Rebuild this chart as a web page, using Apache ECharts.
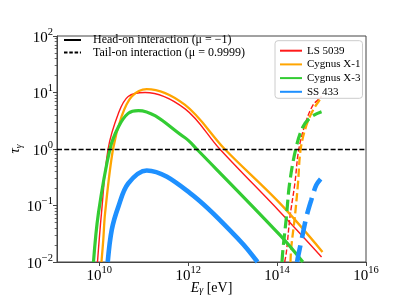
<!DOCTYPE html>
<html>
<head>
<meta charset="utf-8">
<script src="https://cdn.jsdelivr.net/npm/echarts@6/dist/echarts.min.js"></script>
<style>html,body{margin:0;padding:0;background:#fff}#c{width:407px;height:305px}</style>
</head>
<body>
<div id="c"></div>
<script>
// ---- data (E in eV, tau dimensionless) ----
const energyLS5039 = [9.12e9, 1.12e10, 1.58e10, 2.69e10, 4.47e10, 1.07e11, 8.51e11, 5.13e12, 1.15e14, 1.0e15];
const tauLS5039    = [0.01, 0.0724, 1, 4.27, 8.51, 10, 5.13, 1, 0.0776, 0.0123];
const energyCygX1  = [1.12e10, 1.23e10, 1.35e10, 2.04e10, 3.16e10, 5.37e10, 1.17e11, 8.51e11, 6.61e12, 1.15e14, 1.05e15];
const tauCygX1     = [0.01, 0.0245, 0.0724, 1, 3.72, 8.51, 11.5, 6.03, 1, 0.110, 0.0151];
const energyCygX3  = [7.41e9, 9.55e9, 1.74e10, 2.69e10, 4.47e10, 7.59e10, 8.51e11, 1.55e12, 1.15e14, 3.80e14];
const tauCygX3     = [0.01, 0.0724, 1, 2.45, 4.27, 4.79, 1.58, 1, 0.0302, 0.01];
const energySS433  = [1.55e10, 1.91e10, 2.69e10, 4.47e10, 1.17e11, 1.10e12, 1.45e13, 3.63e13];
const tauSS433     = [0.01, 0.0372, 0.0955, 0.245, 0.417, 0.166, 0.0240, 0.01];

const energyLS5039Tail = [1.48e14, 1.62e14, 1.95e14, 2.51e14, 3.09e14, 4.57e14, 6.46e14, 8.32e14, 1.0e15];
const tauLS5039Tail    = [0.01, 0.0151, 0.0631, 0.245, 1, 3.24, 6.03, 7.41, 8.51];
const energyCygX1Tail  = [2.0e14, 2.09e14, 2.51e14, 2.95e14, 3.39e14, 4.57e14, 6.46e14, 9.12e14, 1.0e15];
const tauCygX1Tail     = [0.01, 0.0186, 0.0631, 0.245, 1, 2.63, 4.90, 7.41, 7.94];
const energyCygX3Tail  = [1.29e14, 1.35e14, 1.62e14, 1.91e14, 2.63e14, 3.80e14, 5.89e14, 1.0e15];
const tauCygX3Tail     = [0.01, 0.0162, 0.0631, 0.245, 1, 2.45, 3.72, 4.57];
const energySS433Tail  = [2.82e14, 2.95e14, 3.55e14, 4.57e14, 5.89e14, 7.59e14, 9.55e14];
const tauSS433Tail     = [0.01, 0.0123, 0.0245, 0.0631, 0.126, 0.229, 0.295];

const thresholdTau = 1;
const sourceNames = ['LS 5039', 'Cygnus X-1', 'Cygnus X-3', 'SS 433'];
const modeNames = ['Head-on interaction (μ = −1)', 'Tail-on interaction (μ = 0.9999)'];
const xTickValues = [1e10, 1e12, 1e14, 1e16];
const yTickValues = [0.01, 0.1, 1, 10, 100];
const yMinorTickValues = [0.02,0.03,0.04,0.05,0.06,0.07,0.08,0.09,0.2,0.3,0.4,0.5,0.6,0.7,0.8,0.9,2,3,4,5,6,7,8,9,20,30,40,50,60,70,80,90];

// ---- styles ----
const colors = ['#ff1a1a', '#ffa500', '#33cc33', '#1e90ff'];
const widths = [1.4, 2.3, 3.2, 4.6];
const FONT = 'Liberation Serif';

const zip = (xs, ys) => xs.map((x, i) => [x, ys[i]]);
const headSets = [[energyLS5039, tauLS5039], [energyCygX1, tauCygX1], [energyCygX3, tauCygX3], [energySS433, tauSS433]];
const tailSets = [[energyLS5039Tail, tauLS5039Tail], [energyCygX1Tail, tauCygX1Tail], [energyCygX3Tail, tauCygX3Tail], [energySS433Tail, tauSS433Tail]];

function sup(v) {
  const e = Math.round(Math.log10(v));
  return '{b|10}{s|' + (e < 0 ? '−' + (-e) : e) + '}';
}
const tickRich = {
  b: { fontFamily: FONT, fontSize: 15, verticalAlign: 'bottom', lineHeight: 19, color: '#000' },
  s: { fontFamily: FONT, fontSize: 10.5, verticalAlign: 'top', lineHeight: 19, color: '#000' }
};

const series = [];
headSets.forEach((d, i) => {
  series.push({
    name: sourceNames[i], type: 'line', data: zip(d[0], d[1]),
    symbol: 'none', smooth: 0.35, color: colors[i],
    lineStyle: { color: colors[i], width: widths[i] }, z: 2 + i
  });
});
tailSets.forEach((d, i) => {
  const w = widths[i];
  series.push({
    name: sourceNames[i] + ' tail', type: 'line', data: zip(d[0], d[1]),
    symbol: 'none', smooth: 0.35, color: colors[i],
    lineStyle: { color: colors[i], width: w, type: [3.7 * w, 1.6 * w] }, z: 2 + i
  });
});
// legend-only series for interaction modes
series.push({ name: modeNames[0], type: 'line', data: [], symbol: 'none', color: '#000',
  lineStyle: { color: '#000', width: 1.3 } });
series.push({ name: modeNames[1], type: 'line', data: [], symbol: 'none', color: '#000',
  lineStyle: { color: '#000', width: 1.3, type: [3.5, 1.8] },
  markLine: { silent: true, symbol: 'none', animation: false, z: 10,
    label: { show: false },
    lineStyle: { color: '#000', width: 1.3, type: [5, 2.2] },
    data: [{ yAxis: thresholdTau }] } });

const hiddenSymbol = { color: 'rgba(0,0,0,0)', borderWidth: 0, opacity: 0 };

const chart = echarts.init(document.getElementById('c'), null, { renderer: 'canvas' });
chart.setOption({
  animation: false,
  backgroundColor: '#fff',
  textStyle: { fontFamily: FONT },
  grid: { left: 57, right: 41, top: 36, bottom: 43, show: true, borderColor: '#444', borderWidth: 1,
    backgroundColor: 'transparent', containLabel: false, outerBoundsMode: 'none' },
  legend: [
    { data: modeNames, orient: 'vertical', left: 63, top: 34, padding: 0,
      itemWidth: 17, itemHeight: 11, itemGap: 0.5, selectedMode: false, itemStyle: hiddenSymbol,
      textStyle: { fontFamily: FONT, fontSize: 12, color: '#000', padding: [0, 0, 0, 7] } },
    { data: sourceNames, orient: 'vertical', left: 275, top: 40.7, padding: [4.5, 2, 1, 4],
      itemWidth: 22, itemHeight: 12, itemGap: 2.7, selectedMode: false, itemStyle: hiddenSymbol,
      backgroundColor: 'rgba(255,255,255,0.85)', borderColor: '#ccc', borderWidth: 1, borderRadius: 3,
      textStyle: { fontFamily: FONT, fontSize: 11, color: '#000' } }
  ],
  xAxis: {
    type: 'log', logBase: 10, min: 1.12e9, max: 1e16,
    name: '{e|E}{g|γ}{r| [eV]}', nameLocation: 'middle', nameGap: 15, nameMoveOverlap: false,
    nameTextStyle: { fontFamily: FONT, fontSize: 14, color: '#000',
      rich: { e: { fontFamily: FONT, fontSize: 14, fontStyle: 'italic', verticalAlign: 'bottom', lineHeight: 18 },
              g: { fontFamily: FONT, fontSize: 10, fontStyle: 'italic', verticalAlign: 'bottom', lineHeight: 14 },
              r: { fontFamily: FONT, fontSize: 14, verticalAlign: 'bottom', lineHeight: 18 } } },
    axisLine: { show: true, lineStyle: { color: '#444', width: 1 } },
    axisTick: { show: true, inside: false, length: 4, customValues: xTickValues, lineStyle: { color: '#444' } },
    axisLabel: { customValues: xTickValues, margin: 3, color: '#000', formatter: v => sup(v), rich: tickRich },
    splitLine: { show: false }, minorTick: { show: false }
  },
  yAxis: [{
    type: 'log', logBase: 10, min: 0.01, max: 100,
    name: '{t|τ}{g|γ}', nameLocation: 'middle', nameGap: 33, nameRotate: 90, nameMoveOverlap: false,
    nameTextStyle: { fontFamily: FONT, color: '#000',
      rich: { t: { fontFamily: FONT, fontSize: 15, fontStyle: 'italic', verticalAlign: 'top', lineHeight: 16 },
              g: { fontFamily: FONT, fontSize: 9.5, fontStyle: 'italic', verticalAlign: 'bottom', lineHeight: 16 } } },
    axisLine: { show: true, lineStyle: { color: '#444', width: 1 } },
    axisTick: { show: true, inside: false, length: 4, customValues: yTickValues, lineStyle: { color: '#444' } },
    axisLabel: { customValues: yTickValues, margin: 4, color: '#000', formatter: v => sup(v), rich: tickRich },
    splitLine: { show: false }
  }, {
    type: 'log', logBase: 10, min: 0.01, max: 100, position: 'left',
    axisLine: { show: false }, axisLabel: { show: false }, splitLine: { show: false },
    axisTick: { show: true, inside: false, length: 2.3, customValues: yMinorTickValues, lineStyle: { color: '#444', width: 0.8 } }
  }],
  series: series
});
</script>
</body>
</html>
